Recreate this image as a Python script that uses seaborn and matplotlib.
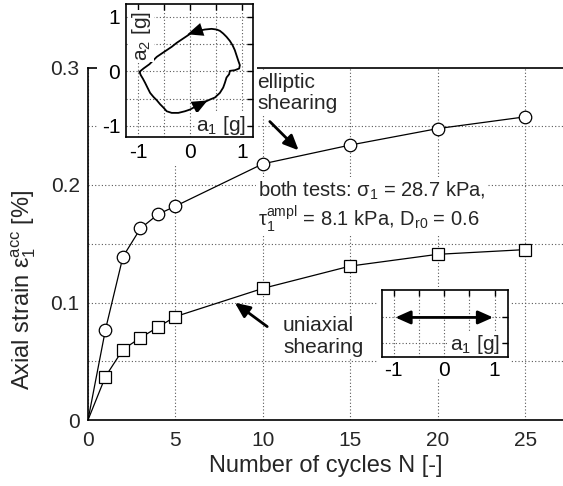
import numpy as np
import pandas as pd
import matplotlib
matplotlib.use("Agg")
import matplotlib.pyplot as plt
from matplotlib.patches import Rectangle
from matplotlib.ticker import MultipleLocator, FuncFormatter
import seaborn as sns

# accumulated axial strain vs. number of cycles
cycles = [1, 2, 3, 4, 5, 10, 15, 20, 25]
strain_elliptic = [0.077, 0.139, 0.163, 0.175, 0.182, 0.218, 0.234, 0.248, 0.258]
strain_uniaxial = [0.037, 0.060, 0.070, 0.079, 0.088, 0.112, 0.131, 0.141, 0.145]

# elliptic acceleration path a1-a2 [g]
loop_a1 = [-0.974, -0.897, -0.782, -0.737, -0.705, -0.641, -0.545, -0.449, -0.353, -0.256,
           -0.160, -0.064, 0.032, 0.160, 0.288, 0.417, 0.513, 0.577, 0.641, 0.705,
           0.769, 0.821, 0.865, 0.897, 0.929, 0.962, 0.949, 0.865, 0.769, 0.756,
           0.705, 0.673, 0.641, 0.577, 0.481, 0.385, 0.288, 0.192, 0.096, 0.000,
           -0.096, -0.224, -0.353, -0.449, -0.513, -0.577, -0.641, -0.705, -0.769, -0.821,
           -0.865, -0.910, -0.949]
loop_a2 = [-0.012, 0.049, 0.128, 0.171, 0.201, 0.262, 0.324, 0.385, 0.446, 0.519,
           0.580, 0.641, 0.702, 0.739, 0.763, 0.775, 0.763, 0.739, 0.690, 0.629,
           0.555, 0.476, 0.385, 0.293, 0.201, 0.110, 0.049, 0.018, 0.006, -0.055,
           -0.116, -0.214, -0.299, -0.397, -0.482, -0.519, -0.562, -0.610, -0.653, -0.702,
           -0.733, -0.763, -0.763, -0.733, -0.665, -0.604, -0.531, -0.470, -0.397, -0.299,
           -0.214, -0.134, -0.073]

# uniaxial acceleration amplitude [g]
uniaxial_a1 = [-0.97, 0.97]

sns.set_theme(style="white")
plt.rcParams["font.family"] = ["Liberation Sans", "DejaVu Sans"]
plt.rcParams["mathtext.fontset"] = "custom"
plt.rcParams["mathtext.rm"] = "Liberation Sans"
plt.rcParams["mathtext.it"] = "Liberation Sans"
plt.rcParams["mathtext.sf"] = "Liberation Sans"
plt.rcParams["mathtext.bf"] = "Liberation Sans:bold"

FS_TICK = 15
FS_TEXT = 15
FS_NOTE = 14.5
FS_LABEL = 17
W, H = 563, 486
fig = plt.figure(figsize=(W / 100, H / 100), dpi=100)
fig.patch.set_facecolor("white")


def fbox(x0, y0, x1, y1):
    """pixel box (top-left origin) -> figure fraction rect"""
    return [x0 / W, 1 - y1 / H, (x1 - x0) / W, (y1 - y0) / H]


grid_kw = dict(color="0.35", linestyle=(0, (1, 2)), linewidth=0.8)

# ---------------- main axes ----------------
ax = fig.add_axes(fbox(88, 67.5, 563, 420))
ax.set_xlim(0, 27.17)
ax.set_ylim(0, 0.3)

df_e = pd.DataFrame({"N": [0] + cycles, "eps": [0.0] + strain_elliptic})
df_u = pd.DataFrame({"N": [0] + cycles, "eps": [0.0] + strain_uniaxial})
sns.lineplot(data=df_e, x="N", y="eps", ax=ax, color="black", lw=0.9, estimator=None,
             marker="o", markersize=9, markerfacecolor="white", markeredgecolor="black",
             markeredgewidth=0.9, markevery=list(range(1, len(df_e))), zorder=4)
sns.lineplot(data=df_u, x="N", y="eps", ax=ax, color="black", lw=0.9, estimator=None,
             marker="s", markersize=8.5, markerfacecolor="white", markeredgecolor="black",
             markeredgewidth=0.9, markevery=list(range(1, len(df_u))), zorder=4)

ax.xaxis.set_major_locator(MultipleLocator(5))
ax.yaxis.set_major_locator(MultipleLocator(0.1))
ax.yaxis.set_minor_locator(MultipleLocator(0.05))
ax.yaxis.set_major_formatter(FuncFormatter(lambda v, p: "0" if abs(v) < 1e-9 else f"{v:.1f}"))
ax.grid(True, which="both", axis="y", **grid_kw)
ax.grid(True, which="major", axis="x", **grid_kw)
ax.set_axisbelow(True)
ax.tick_params(axis="both", which="both", direction="in", length=0, labelsize=FS_TICK)
ax.tick_params(axis="x", pad=8)
ax.tick_params(axis="y", pad=6)
for s in ["left", "bottom", "top"]:
    ax.spines[s].set_linewidth(1.2)
    ax.spines[s].set_color("black")
ax.spines["right"].set_visible(False)

ax.set_xlabel("Number of cycles N [-]", fontsize=FS_LABEL)
ax.xaxis.label.set_va("center")
ax.xaxis.set_label_coords(0.5, (420 - 466) / 352.5)
ax.set_ylabel("Axial strain ε$_1^{\\mathrm{acc}}$ [%]", fontsize=FS_LABEL)
ax.yaxis.label.set_va("center")
ax.yaxis.set_label_coords((24 - 88) / 475, (420 - 290) / 352.5)

box = dict(boxstyle="square,pad=0.12", fc="white", ec="none")
ax.text(9.67, 0.2785, "elliptic\nshearing", fontsize=FS_TEXT, ha="left", va="center",
        linespacing=1.15, bbox=box, zorder=3)
ax.annotate("", xy=(12.05, 0.2295), xytext=(10.4, 0.254),
            arrowprops=dict(arrowstyle="-|>,head_length=0.45,head_width=0.2",
                            mutation_scale=20, lw=2, color="black",
                            shrinkA=0, shrinkB=0))
ax.text(11.16, 0.071, "uniaxial\nshearing", fontsize=FS_TEXT, ha="left", va="center",
        linespacing=1.15, bbox=box, zorder=3)
ax.annotate("", xy=(8.4, 0.0998), xytext=(10.25, 0.0795),
            arrowprops=dict(arrowstyle="-|>,head_length=0.45,head_width=0.2",
                            mutation_scale=20, lw=2, color="black",
                            shrinkA=0, shrinkB=0))
ax.text(9.73, 0.1949, "both tests: σ$_1$ = 28.7 kPa,", fontsize=FS_NOTE, ha="left",
        va="center", bbox=box, zorder=3)
ax.text(9.73, 0.1715, "τ$_1^{\\mathrm{ampl}}$ = 8.1 kPa, D$_{\\mathrm{r0}}$ = 0.6", fontsize=FS_NOTE,
        ha="left", va="center", bbox=box, zorder=3)

# white backgrounds under the insets and their tick labels
for x0, y0, x1, y1 in [(97, 0, 257, 164), (377, 287, 511, 379)]:
    ax.add_patch(Rectangle((x0 / W, 1 - y1 / H), (x1 - x0) / W, (y1 - y0) / H,
                           transform=fig.transFigure, fc="white", ec="none",
                           zorder=2.6, clip_on=False))


def int_label(v, p):
    return "0" if abs(v) < 0.5 else f"{v:.0f}"


def style_inset(a):
    a.set_facecolor("white")
    a.xaxis.set_major_locator(MultipleLocator(1))
    a.xaxis.set_minor_locator(MultipleLocator(0.5))
    a.xaxis.set_major_formatter(FuncFormatter(int_label))
    a.grid(True, which="both", **grid_kw)
    a.set_axisbelow(True)
    a.tick_params(which="both", direction="in", length=4, width=1, top=True, right=True,
                  labelsize=FS_TICK, colors="black")
    for s in a.spines.values():
        s.set_linewidth(1.2)
        s.set_color("black")
        s.set_zorder(5)
    a.set_xlabel("")
    a.set_ylabel("")


lbox = dict(boxstyle="square,pad=0.05", fc="white", ec="none")

# ---------------- inset: elliptic path ----------------
ax1 = fig.add_axes(fbox(125.7, 4, 252.7, 137.3))
loop_df = pd.DataFrame({"a1": loop_a1 + loop_a1[:1], "a2": loop_a2 + loop_a2[:1]})
sns.lineplot(data=loop_df, x="a1", y="a2", sort=False, estimator=None, ax=ax1,
             color="black", lw=1.3)
ax1.set_xlim(-1.24, 1.21)
ax1.set_ylim(-1.21, 1.23)
style_inset(ax1)
ax1.yaxis.set_major_locator(MultipleLocator(1))
ax1.yaxis.set_minor_locator(MultipleLocator(0.5))
ax1.yaxis.set_major_formatter(FuncFormatter(int_label))
ax1.tick_params(axis="x", pad=4)
ax1.tick_params(axis="y", pad=4)
for (x0, y0), (x1, y1) in [((0.11, 0.725), (-0.05, 0.675)), ((0.15, -0.63), (0.34, -0.535))]:
    ax1.annotate("", xy=(x1, y1), xytext=(x0, y0),
                 arrowprops=dict(arrowstyle="-|>,head_length=0.75,head_width=0.32",
                                 mutation_scale=15, lw=0.01, color="black",
                                 shrinkA=0, shrinkB=0))
ax1.text(0.95, 0.092, "a$_1$ [g]", transform=ax1.transAxes, fontsize=FS_TEXT, ha="right",
         va="center", bbox=lbox)
ax1.text(0.126, 0.76, "a$_2$ [g]", transform=ax1.transAxes, fontsize=FS_TEXT, ha="center",
         va="center", rotation=90, bbox=lbox)

# ---------------- inset: uniaxial path ----------------
ax2 = fig.add_axes(fbox(381.7, 290, 508.3, 357.3))
ax2.set_xlim(-1.24, 1.27)
ax2.set_ylim(-0.77, 0.53)
style_inset(ax2)
ax2.set_yticks([-0.5, 0.0])
ax2.set_yticklabels([])
ax2.tick_params(axis="x", pad=3)
ax2.annotate("", xy=(uniaxial_a1[1], 0), xytext=(uniaxial_a1[0], 0),
             arrowprops=dict(arrowstyle="<|-|>,head_length=0.45,head_width=0.2",
                             mutation_scale=20, lw=2, color="black",
                             shrinkA=0, shrinkB=0))
ax2.text(0.935, 0.19, "a$_1$ [g]", transform=ax2.transAxes, fontsize=FS_TEXT, ha="right",
         va="center", bbox=lbox)

fig.savefig("out.png", dpi=100, facecolor="white")
